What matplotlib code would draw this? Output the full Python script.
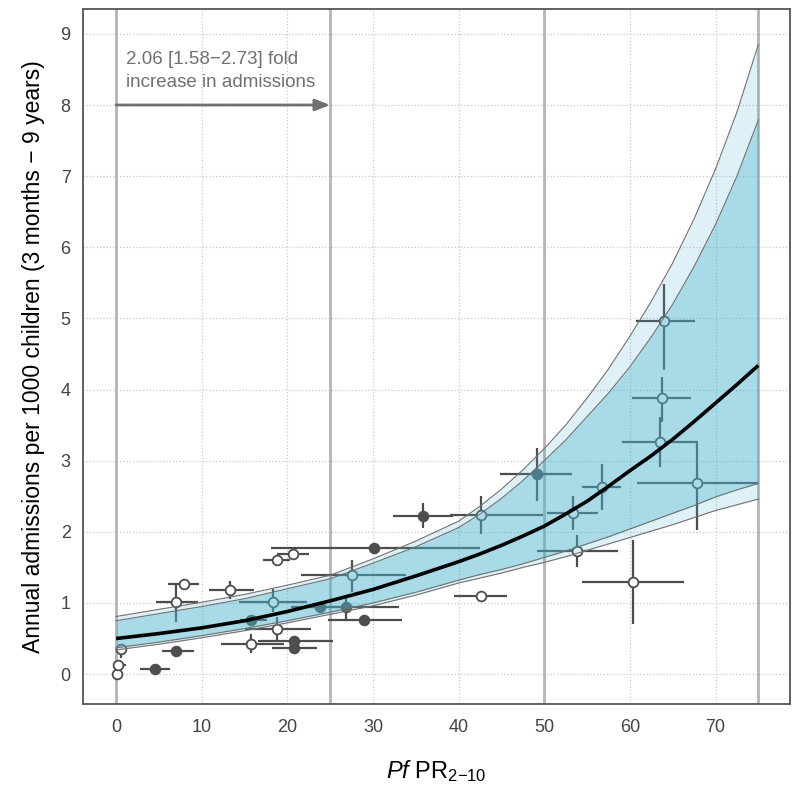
#!/usr/bin/env python3

import numpy as np
import matplotlib
matplotlib.use('Agg')
import matplotlib.pyplot as plt

plt.rcParams['font.family'] = ['Liberation Sans', 'DejaVu Sans']
plt.rcParams['mathtext.fontset'] = 'custom'
plt.rcParams['mathtext.rm'] = 'Liberation Sans'
plt.rcParams['mathtext.it'] = 'Liberation Sans:italic'

# fitted curve and uncertainty bands
fit_x = [0, 5, 10, 15, 20, 25, 30, 35, 40, 42.5, 45, 47.5, 50, 52.5, 55,
         57.5, 60, 62.5, 65, 67.5, 70, 72.5, 75]
fit_y = [0.50, 0.57, 0.65, 0.75, 0.88, 1.03, 1.19, 1.38, 1.58, 1.69, 1.81,
         1.94, 2.08, 2.25, 2.43, 2.64, 2.86, 3.07, 3.30, 3.55, 3.81, 4.07,
         4.34]
inner_lo = [0.37, 0.45, 0.54, 0.64, 0.75, 0.87, 1.00, 1.15, 1.32, 1.40,
            1.47, 1.55, 1.64, 1.73, 1.83, 1.93, 2.04, 2.15, 2.26, 2.37,
            2.49, 2.59, 2.68]
inner_hi = [0.75, 0.85, 0.95, 1.06, 1.20, 1.34, 1.56, 1.79, 2.06, 2.25,
            2.47, 2.72, 3.00, 3.29, 3.62, 3.95, 4.32, 4.74, 5.20, 5.73,
            6.32, 7.00, 7.79]
outer_lo = [0.34, 0.42, 0.51, 0.61, 0.72, 0.84, 0.96, 1.11, 1.28, 1.35,
            1.42, 1.50, 1.57, 1.65, 1.74, 1.83, 1.92, 2.01, 2.10, 2.20,
            2.30, 2.38, 2.46]
outer_hi = [0.81, 0.91, 1.01, 1.12, 1.25, 1.39, 1.62, 1.87, 2.15, 2.36,
            2.60, 2.87, 3.17, 3.50, 3.88, 4.29, 4.75, 5.24, 5.78, 6.40,
            7.10, 7.90, 8.85]

# study sites: PfPR, admissions, x range, y range
open_x = [0.1, 0.2, 0.6, 7.0, 7.9, 13.3, 18.3, 18.8, 15.7, 18.8, 20.7,
          27.5, 42.6, 42.6, 53.8, 53.3, 56.7, 63.5, 67.8, 63.8, 64.0, 60.4]
open_y = [0.00, 0.13, 0.35, 1.02, 1.27, 1.18, 1.02, 0.63, 0.42, 1.60, 1.69,
          1.40, 1.10, 2.23, 1.73, 2.26, 2.63, 3.26, 2.68, 3.88, 4.97, 1.30]
open_xlo = [0.0, 0.0, 0.3, 4.7, 6.1, 10.8, 14.4, 15.0, 12.2, 17.2, 18.8,
            21.6, 39.5, 39.0, 49.1, 50.3, 54.4, 59.1, 60.8, 60.3, 60.7, 54.4]
open_xhi = [0.3, 1.1, 0.9, 9.6, 9.7, 16.1, 22.3, 22.8, 19.6, 20.3, 22.5,
            33.9, 45.7, 49.9, 58.6, 56.3, 59.0, 68.0, 75.0, 67.1, 67.6, 66.3]
open_ylo = [0.00, 0.10, 0.23, 0.73, 1.27, 1.06, 0.87, 0.47, 0.30, 1.60, 1.69,
            1.15, 1.10, 1.97, 1.51, 2.02, 2.30, 2.91, 2.02, 3.54, 4.28, 0.71]
open_yhi = [0.00, 0.16, 0.35, 1.27, 1.27, 1.31, 1.19, 0.80, 0.56, 1.60, 1.69,
            1.60, 1.10, 2.50, 1.95, 2.51, 2.95, 3.61, 3.26, 4.18, 5.49, 1.89]

filled_x = [4.5, 7.0, 15.7, 20.8, 20.8, 23.8, 26.9, 29.0, 30.1, 35.8, 49.1]
filled_y = [0.075, 0.32, 0.76, 0.46, 0.36, 0.95, 0.94, 0.76, 1.77, 2.22, 2.81]
filled_xlo = [2.8, 5.4, 14.5, 16.6, 18.2, 20.4, 22.0, 24.7, 18.1, 32.3, 44.8]
filled_xhi = [6.3, 9.1, 17.6, 25.3, 23.5, 27.5, 33.0, 33.4, 42.5, 39.3, 53.2]
filled_ylo = [0.075, 0.32, 0.76, 0.46, 0.30, 0.95, 0.77, 0.76, 1.77, 2.06, 2.44]
filled_yhi = [0.075, 0.32, 0.76, 0.46, 0.42, 0.95, 1.08, 0.76, 1.77, 2.41, 3.18]

ref_lines = [0, 25, 50, 75]
x_ticks = [0, 10, 20, 30, 40, 50, 60, 70]
y_ticks = [0, 1, 2, 3, 4, 5, 6, 7, 8, 9]


def draw_sites(ax, x, y, xlo, xhi, ylo, yhi, face):
    x = np.array(x)
    y = np.array(y)
    xerr = [x - np.array(xlo), np.array(xhi) - x]
    yerr = [y - np.array(ylo), np.array(yhi) - y]
    ax.errorbar(x, y, xerr=xerr, yerr=yerr, fmt='o', color='#4d4d4d',
                ecolor='#4d4d4d', elinewidth=1.6, capsize=0, ms=7,
                mfc=face, mec='#4d4d4d', mew=1.3, zorder=3)


def main():
    fig = plt.figure(figsize=(8, 7.95), dpi=100)
    ax = fig.add_axes([0.104, 0.1145, 0.8835, 0.8742])

    ax.set_xlim(-3.85, 78.7)
    ax.set_ylim(-0.42, 9.35)
    ax.set_xticks(x_ticks)
    ax.set_yticks(y_ticks)
    ax.grid(True, color='#c8c8c8', linestyle=':', linewidth=0.9)
    ax.set_axisbelow(True)
    ax.tick_params(length=0, labelsize=13, colors='#444444')
    ax.tick_params(axis='x', pad=11)
    ax.tick_params(axis='y', pad=9)
    for sp in ax.spines.values():
        sp.set_color('#555555')
        sp.set_linewidth(1.3)

    for v in ref_lines:
        ax.axvline(v, color='#b4b4b4', lw=2, zorder=1)

    draw_sites(ax, open_x, open_y, open_xlo, open_xhi, open_ylo, open_yhi,
               'white')
    draw_sites(ax, filled_x, filled_y, filled_xlo, filled_xhi, filled_ylo,
               filled_yhi, '#4d4d4d')

    # bands sit on top of the sites, so sites inside them look tinted
    ax.fill_between(fit_x, outer_lo, outer_hi, color='#4ab2cf', alpha=0.18,
                    lw=0, zorder=4)
    ax.fill_between(fit_x, inner_lo, inner_hi, color='#4ab2cf', alpha=0.36,
                    lw=0, zorder=4)
    for edge in (outer_lo, outer_hi, inner_lo, inner_hi):
        ax.plot(fit_x, edge, color='#707070', lw=0.8, zorder=5)
    ax.plot(fit_x, fit_y, color='black', lw=2.6, zorder=6,
            solid_capstyle='butt', solid_joinstyle='round')

    ax.annotate('', xy=(25, 8), xytext=(0, 8),
                arrowprops=dict(arrowstyle='-|>,head_length=0.9,head_width=0.35',
                                color='#707070', lw=2, shrinkA=0, shrinkB=0),
                zorder=6)
    ax.text(1.2, 8.48, '2.06 [1.58\u22122.73] fold\nincrease in admissions',
            color='#707070', fontsize=13.5, va='center', ha='left',
            linespacing=1.45)

    ax.set_xlabel(r'$\mathit{Pf}\ \mathrm{PR}_{2\mathrm{-}10}$', fontsize=17,
                  labelpad=16)
    ax.set_ylabel('Annual admissions per 1000 children (3 months \u2212 9 years)',
                  fontsize=16.5, labelpad=11)

    fig.savefig('out.png', dpi=100)


if __name__ == '__main__':
    main()
